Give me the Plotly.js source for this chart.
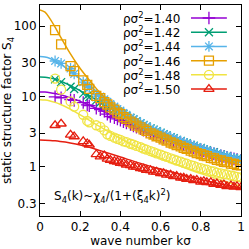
<!DOCTYPE html>
<html><head><meta charset="utf-8">
<script src="https://cdn.plot.ly/plotly-3.0.1.min.js"></script>
<style>html,body{margin:0;padding:0;background:#fff}#c{width:249px;height:249px}</style>
</head><body><div id="c"></div>
<script>
// wave numbers of the measured points
const k = [0.075,0.105,0.152,0.17,0.215,0.235,0.245,0.28,0.3,0.32,0.335,0.35,0.37,0.385,0.4,0.415,0.43,0.45,0.465,0.48,0.5,0.515,0.53,0.55,0.565,0.58,0.6,0.615,0.63,0.65,0.665,0.68,0.7,0.715,0.73,0.75,0.765,0.78,0.8,0.815,0.83,0.85,0.865,0.88,0.9,0.915,0.93,0.95,0.965,0.98,1.0];
const S140 = [9.9,9.6,9.0,8.8,8.2,7.6,7.4,6.8,6.5,6.2,5.6,5.2,5.0,4.8,4.6,4.4,4.2,4.0,3.82,3.66,3.48,3.33,3.2,3.05,2.93,2.82,2.7,2.6,2.5,2.4,2.3,2.22,2.14,2.07,2.0,1.92,1.86,1.8,1.73,1.68,1.63,1.57,1.53,1.49,1.44,1.4,1.37,1.33,1.3,1.27,1.24];
const S142 = [17.5,16,13.8,12.8,11,10.3,9.8,8.8,8.2,7.7,7.3,7.0,6.6,6.2,5.9,5.6,5.3,4.95,4.7,4.45,4.15,3.95,3.75,3.52,3.38,3.2,3.05,2.9,2.8,2.63,2.55,2.42,2.33,2.22,2.17,2.04,2.0,1.9,1.85,1.76,1.73,1.63,1.61,1.53,1.5,1.43,1.42,1.35,1.34,1.29,1.28];
const S144 = [32,29.5,25,21,16,14.2,13.5,10.6,10,9.1,8.4,7.8,7.2,6.6,6.3,5.8,5.5,5.0,4.8,4.45,4.2,3.9,3.75,3.5,3.36,3.18,3.05,2.88,2.8,2.6,2.54,2.4,2.32,2.2,2.15,2.02,1.98,1.88,1.83,1.74,1.71,1.61,1.59,1.51,1.48,1.42,1.4,1.34,1.32,1.27,1.26];
const S146 = [88,55,27,23,17,14.6,12.8,10.2,9.5,8.3,7.7,7.0,6.5,5.9,5.6,5.1,4.8,4.4,4.15,3.85,3.65,3.4,3.25,3.0,2.88,2.72,2.6,2.45,2.37,2.22,2.14,2.03,1.96,1.86,1.8,1.7,1.65,1.57,1.52,1.45,1.42,1.34,1.32,1.26,1.23,1.18,1.17,1.11,1.1,1.06,1.05];
const S148 = [18,12.5,8.5,7.2,5.5,4.5,4.3,3.9,3.7,3.3,2.9,2.75,2.6,2.5,2.42,2.3,2.25,2.13,2.07,1.98,1.9,1.82,1.76,1.67,1.62,1.55,1.49,1.43,1.39,1.32,1.28,1.23,1.19,1.14,1.11,1.06,1.03,0.99,0.96,0.93,0.91,0.87,0.86,0.83,0.81,0.79,0.78,0.75,0.74,0.72,0.71];
const S150 = [3.9,4.1,2.85,2.7,2.3,2.15,2.05,1.5,1.4,1.45,1.3,1.25,1.2,1.18,1.13,1.12,1.07,1.05,1.0,1.0,0.95,0.94,0.9,0.89,0.85,0.85,0.81,0.81,0.77,0.77,0.73,0.74,0.7,0.7,0.67,0.67,0.64,0.65,0.61,0.62,0.6,0.6,0.57,0.58,0.55,0.56,0.53,0.54,0.52,0.53,0.51];

// fitted curves
const kFit = [0,0.025,0.05,0.075,0.1,0.125,0.15,0.2,0.25,0.3,0.4,0.5,0.6,0.7,0.8,0.9,1.0];
const F140 = [11.6,11.55,11.35,11.05,10.64,10.15,9.65,8.53,7.42,6.41,4.75,3.57,2.74,2.14,1.72,1.4,1.16];
const F142 = [18.9,18.8,18.3,17.6,16.6,15.5,14.4,12.1,10.1,8.3,5.8,4.18,3.12,2.4,1.89,1.52,1.25];
const F144 = [37,36.4,34.7,32.1,29.1,26,23,17.8,13.8,10.8,6.6,4.4,3.15,2.38,1.86,1.5,1.26];
const F146 = [170,158,127,97,72,54,41,25,16.5,11.2,5.9,3.75,2.65,2.0,1.55,1.27,1.06];
const F148 = [9,8.91,8.65,8.26,7.76,7.2,6.62,5.49,4.5,3.69,2.53,1.8,1.33,1.02,0.8,0.65,0.53];
const F150 = [2.4,2.39,2.37,2.34,2.3,2.25,2.19,2.05,1.88,1.7,1.38,1.12,0.93,0.78,0.66,0.57,0.5];

const labels = ['ρσ<sup>2</sup>=1.40','ρσ<sup>2</sup>=1.42','ρσ<sup>2</sup>=1.44','ρσ<sup>2</sup>=1.46','ρσ<sup>2</sup>=1.48','ρσ<sup>2</sup>=1.50'];
const yTickVals = [0.3,1,3,10,30,100];
const yTickText = ['0.3','1','3','10','30','100'];
const xTickVals = [0,0.2,0.4,0.6,0.8,1];
const xTickText = ['0','0.2','0.4','0.6','0.8','1'];

const dataS = [S140,S142,S144,S146,S148,S150];
const dataF = [F140,F142,F144,F146,F148,F150];
const colors = ['#9400d3','#009e73','#56b4e9','#e69f00','#f0e442','#e51e10'];
const symbols = ['cross-thin-open','x-thin-open','asterisk-open','square-open','circle-open','triangle-up-open'];
const sizes = [9,8,9,9,9,9];
const FONT = 'DejaVu Sans, sans-serif';

const traces = [];
dataS.forEach((s,i)=>{
  traces.push({x:kFit,y:dataF[i],mode:'lines',line:{color:colors[i],width:1.5,shape:'spline'},showlegend:false,hoverinfo:'skip'});
  traces.push({x:k,y:s,mode:'markers',marker:{symbol:symbols[i],size:sizes[i],color:colors[i],line:{color:colors[i],width:1.3}},showlegend:false});
});
// legend keys (drawn on a hidden helper axis)
const keyX = [0,0.5,1];
dataS.forEach((s,i)=>{
  traces.push({x:keyX,y:keyX.map(()=>i),xaxis:'x2',yaxis:'y2',mode:'lines+markers',
    line:{color:colors[i],width:1.5},
    marker:{symbol:symbols[i],size:[0,sizes[i],0],opacity:[0,1,0],color:colors[i],line:{color:colors[i],width:1.3}},
    showlegend:false,hoverinfo:'skip',cliponaxis:false});
});

const annotations = labels.map((t,i)=>({text:t,xref:'paper',yref:'y2',x:0.706,y:i,xanchor:'right',yanchor:'middle',showarrow:false,font:{family:FONT,size:12,color:'#000'}}));
annotations.push({text:'S<sub>4</sub>(k)~χ<sub>4</sub>/(1+(ξ<sub>4</sub>k)<sup>2</sup>)',xref:'paper',yref:'paper',x:0.06,y:0.095,xanchor:'left',yanchor:'middle',showarrow:false,font:{family:FONT,size:12,color:'#000'}});

const axisCommon = {showgrid:false,zeroline:false,showline:true,linecolor:'#000',linewidth:1,mirror:'ticks',ticks:'inside',ticklen:5,tickcolor:'#000',tickwidth:1,tickfont:{family:FONT,size:12,color:'#000'}};

const layout = {
  width:249,height:249,margin:{l:40,r:8,t:5,b:33},
  paper_bgcolor:'#fff',plot_bgcolor:'rgba(0,0,0,0)',
  showlegend:false,
  font:{family:FONT,size:12,color:'#000'},
  xaxis:Object.assign({},axisCommon,{range:[0,1],tickvals:xTickVals,ticktext:xTickText,
    title:{text:'wave number kσ',font:{family:FONT,size:12,color:'#000'},standoff:2}}),
  yaxis:Object.assign({},axisCommon,{type:'log',range:[Math.log10(0.2),Math.log10(200)],tickvals:yTickVals,ticktext:yTickText,
    title:{text:'static structure factor S<sub>4</sub>',font:{family:FONT,size:12,color:'#000'},standoff:2}}),
  xaxis2:{domain:[0.751,0.930],range:[0,1],visible:false,anchor:'y2',fixedrange:true},
  yaxis2:{domain:[0.568,0.972],range:[5.5,-0.5],visible:false,anchor:'x2',fixedrange:true},
  annotations:annotations
};
Plotly.newPlot('c',traces,layout,{staticPlot:true,displayModeBar:false});
</script></body></html>
